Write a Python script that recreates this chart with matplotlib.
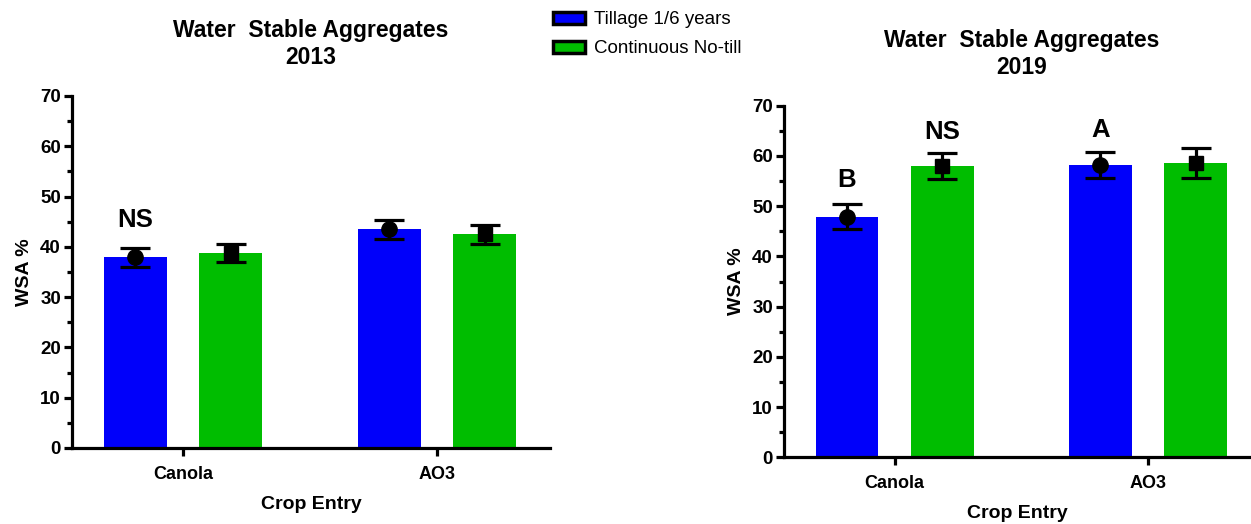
import numpy as np
import matplotlib
matplotlib.use("Agg")
import matplotlib.pyplot as plt
from matplotlib.patches import Patch
from matplotlib.ticker import MultipleLocator

plt.rcParams["font.family"] = ["Liberation Sans", "DejaVu Sans"]

# ---- data ----
crops = ["Canola", "AO3"]
series = ["Tillage 1/6 years", "Continuous No-till"]

wsa_2013_till = [37.9, 43.5]
wsa_2013_till_err = [1.9, 1.9]
wsa_2013_notill = [38.8, 42.5]
wsa_2013_notill_err = [1.85, 1.9]

wsa_2019_till = [47.9, 58.2]
wsa_2019_till_err = [2.45, 2.5]
wsa_2019_notill = [58.0, 58.6]
wsa_2019_notill_err = [2.5, 3.0]

# letters: (crop index, series index, text, y)
letters_2013 = [(0, 0, "NS", 45.3)]
letters_2019 = [(0, 0, "B", 55.2), (0, 1, "NS", 64.8), (1, 0, "A", 65.2)]

BLUE = "#0000fa"
GREEN = "#00bd00"
LW = 2.3


def draw_panel(ax, till, till_err, notill, notill_err, letters, xmax):
    x = np.arange(len(crops))
    off = 0.188
    w = 0.248
    for vals, errs, col, mk, ms, sgn in [
        (till, till_err, BLUE, "o", 11, -1),
        (notill, notill_err, GREEN, "s", 10, 1),
    ]:
        xs = x + sgn * off
        ax.bar(xs, vals, width=w, color=col, zorder=1)
        ax.errorbar(xs, vals, yerr=errs, fmt=mk, color="black", ms=ms,
                    capsize=11, elinewidth=LW, capthick=LW, zorder=3)
    for ci, si, txt, yv in letters:
        xp = x[ci] + (-off if si == 0 else off)
        ax.text(xp, yv, txt, ha="center", va="center", fontsize=18.5,
                fontweight="bold")

    ax.set_xlim(-0.437, xmax)
    ax.set_ylim(0, 70)
    ax.set_xticks(x)
    ax.set_xticklabels(crops, fontsize=13, fontweight="bold")
    ax.yaxis.set_major_locator(MultipleLocator(10))
    ax.yaxis.set_minor_locator(MultipleLocator(5))
    for lab in ax.get_yticklabels():
        lab.set_fontweight("bold")
        lab.set_fontsize(13.5)
    ax.tick_params(axis="y", which="major", length=6, width=LW, pad=2)
    ax.tick_params(axis="y", which="minor", length=3.5, width=LW)
    ax.tick_params(axis="x", which="major", length=6, width=LW, pad=7)
    ax.tick_params(axis="x", which="minor", bottom=False)
    for s in ["top", "right"]:
        ax.spines[s].set_visible(False)
    for s in ["left", "bottom"]:
        ax.spines[s].set_linewidth(LW)
    ax.set_ylabel("WSA %", fontsize=14, fontweight="bold", labelpad=5)
    ax.set_xlabel("Crop Entry", fontsize=14, fontweight="bold", labelpad=9)


fig = plt.figure(figsize=(12.51, 5.24), dpi=100)
ax1 = fig.add_axes([72 / 1251, 1 - 448 / 524, 478 / 1251, 352 / 524])
ax2 = fig.add_axes([784 / 1251, 1 - 457.3 / 524, 467 / 1251, 351.6 / 524])

draw_panel(ax1, wsa_2013_till, wsa_2013_till_err, wsa_2013_notill,
           wsa_2013_notill_err, letters_2013, 1.445)
draw_panel(ax2, wsa_2019_till, wsa_2019_till_err, wsa_2019_notill,
           wsa_2019_notill_err, letters_2019, 1.407)

fig.text(311 / 1251, 1 - 44 / 524, "Water  Stable Aggregates\n2013",
         ha="center", va="center", fontsize=16.5, fontweight="bold",
         linespacing=1.27)
fig.text(1022 / 1251, 1 - 54 / 524, "Water  Stable Aggregates\n2019",
         ha="center", va="center", fontsize=16.5, fontweight="bold",
         linespacing=1.27)

handles = [Patch(facecolor=BLUE, edgecolor="black", linewidth=2.5),
           Patch(facecolor=GREEN, edgecolor="black", linewidth=2.5)]
fig.legend(handles, series, loc="upper left",
           bbox_to_anchor=(542 / 1251, 1.0), frameon=False, fontsize=13.5,
           handlelength=1.7, handleheight=0.6, handletextpad=0.5,
           labelspacing=0.65, borderaxespad=0.2)

fig.savefig("out.png", dpi=100)
